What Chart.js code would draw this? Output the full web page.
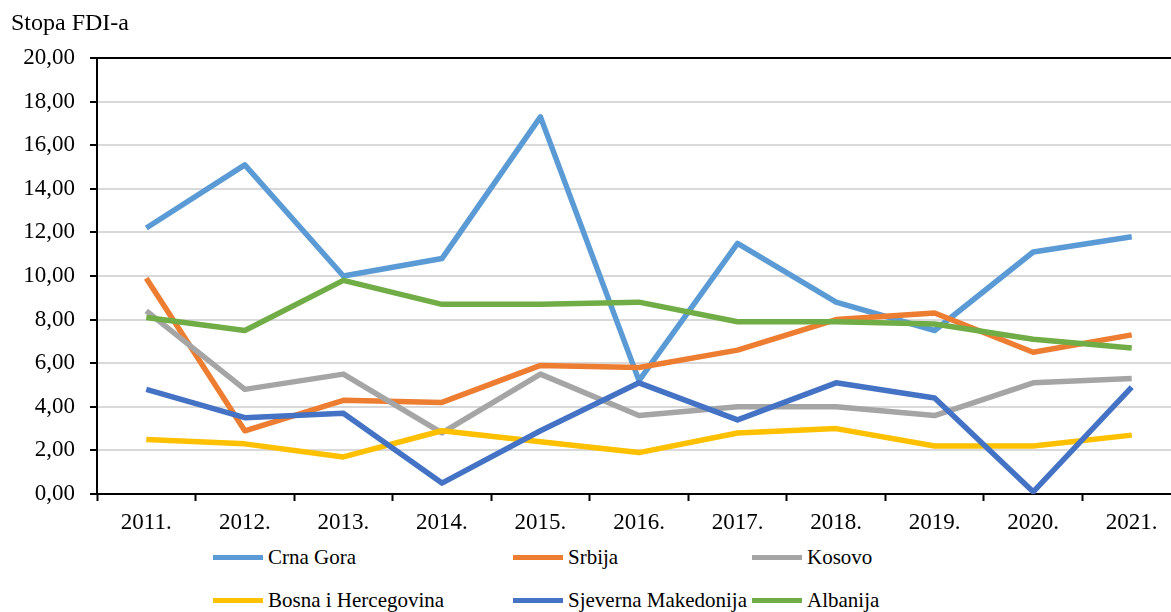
<!DOCTYPE html>
<html>
<head>
<meta charset="utf-8">
<script src="https://cdn.jsdelivr.net/npm/chart.js@4.4.1/dist/chart.umd.min.js"></script>
<style>
    html, body { margin: 0; padding: 0; background: #fff; overflow: hidden; }
    body { width: 1171px; height: 612px; position: relative; font-family: "Liberation Serif", "DejaVu Serif", "Times New Roman", serif; color: #000; }
    #wrap { position: absolute; left: 0; top: 0; width: 1190px; height: 540px; }
    #title { position: absolute; left: 11px; top: 8px; font-size: 24px; line-height: 28px; }
    .leg { position: absolute; font-size: 21px; line-height: 28px; white-space: nowrap; }
    .leg i { position: absolute; top: 12px; width: 50px; height: 5px; }
    .leg span { position: absolute; top: 0; }
</style>
</head>
<body>
<div id="wrap"><canvas id="fdi-chart"></canvas></div>
<div id="title">Stopa FDI-a</div>
<div id="legend"></div>
<script>

    const years = [ '2011.', '2012.', '2013.', '2014.', '2015.', '2016.', '2017.', '2018.', '2019.', '2020.', '2021.' ];

    const crnaGora   = [ 12.2, 15.1, 10.0, 10.8, 17.3, 5.2, 11.5, 8.8, 7.5, 11.1, 11.8 ];
    const srbija     = [ 9.9, 2.9, 4.3, 4.2, 5.9, 5.8, 6.6, 8.0, 8.3, 6.5, 7.3 ];
    const kosovo     = [ 8.4, 4.8, 5.5, 2.8, 5.5, 3.6, 4.0, 4.0, 3.6, 5.1, 5.3 ];
    const bih        = [ 2.5, 2.3, 1.7, 2.9, 2.4, 1.9, 2.8, 3.0, 2.2, 2.2, 2.7 ];
    const makedonija = [ 4.8, 3.5, 3.7, 0.5, 2.9, 5.1, 3.4, 5.1, 4.4, 0.1, 4.9 ];
    const albanija   = [ 8.1, 7.5, 9.8, 8.7, 8.7, 8.8, 7.9, 7.9, 7.8, 7.1, 6.7 ];

    const seriesNames  = [ 'Crna Gora', 'Srbija', 'Kosovo', 'Bosna i Hercegovina', 'Sjeverna Makedonija', 'Albanija' ];
    const seriesData   = [ crnaGora, srbija, kosovo, bih, makedonija, albanija ];
    const seriesColors = [ '#5B9BD5', '#ED7D31', '#A5A5A5', '#FFC000', '#4472C4', '#70AD47' ];

    const tickFont = { family: '"Liberation Serif", "DejaVu Serif", "Times New Roman", serif', size: 23 };

    // legend laid out as in the original: 3 columns, 2 rows
    const legendCols = [ 213, 513, 752 ];
    const legendRows = [ 543, 586 ];
    let legendHtml = '';
    for ( let i = 0; i < seriesNames.length; i++ ) {
        let x = legendCols[ i % 3 ], y = legendRows[ Math.floor( i / 3 ) ];
        legendHtml += '<div class="leg" style="left:' + x + 'px;top:' + y + 'px">' +
            '<i style="left:0;background:' + seriesColors[i] + '"></i>' +
            '<span style="left:55px">' + seriesNames[i] + '</span></div>';
    }
    document.getElementById('legend').innerHTML = legendHtml;

    // top / right frame of the plot area
    const plotFrame = {
        id: 'plotFrame',
        afterDraw( chart ) {
            let a = chart.chartArea, ctx = chart.ctx;
            ctx.save();
            ctx.strokeStyle = '#000';
            ctx.lineWidth = 2;
            ctx.beginPath();
            ctx.moveTo( a.left, a.top );
            ctx.lineTo( a.right, a.top );
            ctx.lineTo( a.right, a.bottom );
            ctx.stroke();
            ctx.restore();
        }
    };

    let datasets = [];
    for ( let i = 0; i < seriesData.length; i++ ) {
        datasets.push({
            label: seriesNames[i],
            data: seriesData[i],
            borderColor: seriesColors[i],
            backgroundColor: seriesColors[i],
            borderWidth: 5.5,
            pointRadius: 0,
            tension: 0,
            borderJoinStyle: 'round',
            order: seriesData.length - i
        });
    }

    new Chart( document.getElementById('fdi-chart'), {
        type: 'line',
        data: { labels: years, datasets: datasets },
        options: {
            responsive: true,
            maintainAspectRatio: false,
            animation: false,
            events: [],
            layout: { padding: { top: 58, right: 9, left: 0, bottom: 0 } },
            plugins: {
                legend: { display: false },
                tooltip: { enabled: false }
            },
            scales: {
                x: {
                    offset: true,
                    grid: { offset: true, drawOnChartArea: false, drawTicks: true, tickLength: 7, tickColor: '#000', tickWidth: 2 },
                    border: { color: '#000', width: 2 },
                    ticks: { font: tickFont, color: '#000', padding: 8, maxRotation: 0, autoSkip: false },
                    afterFit( scale ) { scale.height = 46; }
                },
                y: {
                    min: 0,
                    max: 20,
                    grid: { color: '#D9D9D9', lineWidth: 2, tickLength: 7, tickColor: '#000', tickWidth: 2 },
                    border: { color: '#000', width: 2 },
                    ticks: {
                        stepSize: 2,
                        font: tickFont,
                        color: '#000',
                        padding: 15,
                        callback: function ( v ) { return v.toFixed(2).replace('.', ','); }
                    },
                    afterFit( scale ) { scale.width = 97; }
                }
            }
        },
        plugins: [ plotFrame ]
    });

</script>
</body>
</html>
